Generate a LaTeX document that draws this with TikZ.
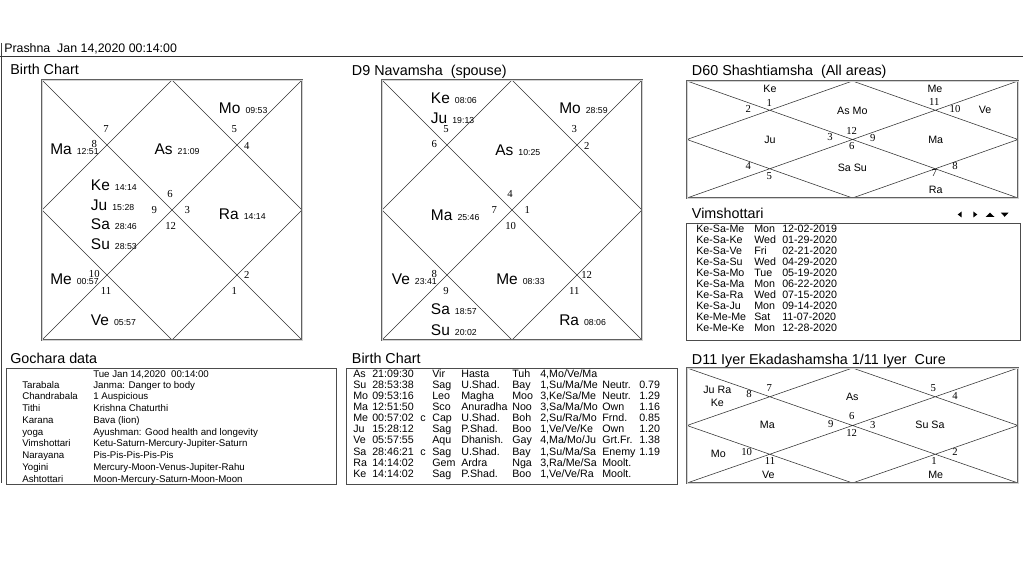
\documentclass[tikz,border=0pt]{standalone}
\usepackage{fontspec}
\setmainfont{Liberation Sans}
\newfontfamily\numfont{Liberation Serif}
\usetikzlibrary{calc}
\newcommand\fsz[1]{\fontsize{#1}{#1}\selectfont}
\newcommand\pd[2]{#1\hspace{3.6pt}{\fsz{6.2}#2}}
\newcommand\chartframe[5]{%
  \coordinate (#1-tl) at (#2,#3);
  \coordinate (#1-tr) at (#4,#3);
  \coordinate (#1-bl) at (#2,#5);
  \coordinate (#1-br) at (#4,#5);
  \coordinate (#1-t) at ($(#1-tl)!0.5!(#1-tr)$);
  \coordinate (#1-b) at ($(#1-bl)!0.5!(#1-br)$);
  \coordinate (#1-l) at ($(#1-tl)!0.5!(#1-bl)$);
  \coordinate (#1-r) at ($(#1-tr)!0.5!(#1-br)$);
  \draw[chartline] (#1-tl) -- (#1-br) (#1-tr) -- (#1-bl) (#1-t) -- (#1-r) -- (#1-b) -- (#1-l) -- cycle;
  \draw[chartbox] (#1-tl) rectangle (#1-br);
}
% birth table row: idx, y, planet, deg, c, sign, nakshatra, abbr, pada
\newcommand\btrow[9]{%
  \node[tb] (bt-#1-a) at (353,#2) {#3};
  \node[tb] (bt-#1-b) at (372,#2) {#4};
  \node[tb] (bt-#1-c) at (420,#2) {#5};
  \node[tb] (bt-#1-d) at (432,#2) {#6};
  \node[tb] (bt-#1-e) at (461,#2) {#7};
  \node[tb] (bt-#1-f) at (512,#2) {#8};
  \node[tb] (bt-#1-g) at (540,#2) {#9};
}
\newcommand\btrel[4]{%
  \node[tb] (bt-#1-h) at (602,#2) {#3};
  \node[tb] (bt-#1-i) at (639,#2) {#4};
}
\newcommand\gcrow[4]{%
  \node[gc] (gc-#1-a) at (22,#2) {#3};
  \node[gc] (gc-#1-b) at (93,#2) {#4};
}
\newcommand\vmrow[5]{%
  \node[tb] (vm-#1-a) at (696,#2) {#3};
  \node[tb] (vm-#1-b) at (754,#2) {#4};
  \node[tb] (vm-#1-c) at (782,#2) {#5};
}
\begin{document}
\begin{tikzpicture}[x=0.025cm,y=-0.025cm,
  pl/.style={anchor=base west, inner sep=0pt, font=\fsz{11}},
  hn/.style={inner sep=0pt, font=\numfont\fsz{7.6}},
  sm/.style={inner sep=0pt, font=\fsz{7.6}, text height=5.5pt, text depth=0pt},
  ttl/.style={anchor=base west, inner sep=0pt, font=\fsz{10.2}},
  tb/.style={anchor=base west, inner sep=0pt, font=\fsz{7.6}},
  gc/.style={anchor=base west, inner sep=0pt, font=\fsz{6.9}},
  chartbox/.style={draw=gray!75!black, double=gray!35, line width=0.45pt, double distance=0.7pt},
  chartline/.style={draw=gray!40!black, line width=0.4pt},
  tblbox/.style={draw=gray!60!black, line width=0.65pt},
  arrowtri/.style={fill=black}]
\useasboundingbox (0,0) rectangle (1024,576);
\fill[white] (0,0) rectangle (1024,576);

% header
\node[anchor=base west, inner sep=0pt, font=\fsz{8.8}] (hdr) at (4,52.7) {Prashna\ \ Jan 14,2020 00:14:00};
\coordinate (hl1) at (0,56.5);
\coordinate (hl2) at (1023,56.5);
\draw[gray!40!black, line width=0.7pt] (hl1) -- (hl2);
\coordinate (vl1) at (1.5,43);
\coordinate (vl2) at (1.5,483);
\draw[gray!50!black, line width=0.6pt] (vl1) -- (vl2);

% titles
\node[ttl] (t-birth) at (10,75) {Birth Chart};
\node[ttl] (t-d9) at (351.7,75.5) {D9 Navamsha\ \ (spouse)};
\node[ttl] (t-d60) at (691.7,75.5) {D60 Shashtiamsha\ \ (All areas)};
\node[ttl] (t-vim) at (691.7,218.3) {Vimshottari};
\node[ttl] (t-goc) at (10,363.3) {Gochara data};
\node[ttl] (t-btab) at (351.7,363.3) {Birth Chart};
\node[ttl] (t-d11) at (691.7,364) {D11 Iyer Ekadashamsha 1/11 Iyer\ \ Cure};

% ---------- Birth chart ----------
\chartframe{B}{42}{80}{302}{340}
\node[pl] (b-mo) at (218.7,113.3) {\pd{Mo}{09:53}};
\node[pl] (b-ma) at (50,155) {\pd{Ma}{12:51}};
\node[pl] (b-as) at (154.3,155) {\pd{As}{21:09}};
\node[pl] (b-ke) at (90.7,190.3) {\pd{Ke}{14:14}};
\node[pl] (b-ju) at (90.7,210.7) {\pd{Ju}{15:28}};
\node[pl] (b-sa) at (90.7,230) {\pd{Sa}{28:46}};
\node[pl] (b-su) at (90.7,249.3) {\pd{Su}{28:53}};
\node[pl] (b-ra) at (218.7,220) {\pd{Ra}{14:14}};
\node[pl] (b-me) at (50,284.3) {\pd{Me}{00:57}};
\node[pl] (b-ve) at (90.7,325.7) {\pd{Ve}{05:57}};
\node[hn] (b-h7) at (106,129.3) {7};
\node[hn] (b-h8) at (94.3,144.3) {8};
\node[hn] (b-h5) at (234.3,129.3) {5};
\node[hn] (b-h4) at (246.7,146) {4};
\node[hn] (b-h6) at (170,194) {6};
\node[hn] (b-h9) at (154.3,210) {9};
\node[hn] (b-h3) at (187.3,210) {3};
\node[hn] (b-h12) at (170.7,226) {12};
\node[hn] (b-h10) at (94.3,274.3) {10};
\node[hn] (b-h11) at (106,291) {11};
\node[hn] (b-h2) at (246.7,275) {2};
\node[hn] (b-h1) at (234.3,291) {1};

% ---------- D9 chart ----------
\chartframe{N}{382}{80}{642}{340}
\node[pl] (n-ke) at (430.7,103.3) {\pd{Ke}{08:06}};
\node[pl] (n-ju) at (430.7,123.3) {\pd{Ju}{19:13}};
\node[pl] (n-mo) at (559,113.3) {\pd{Mo}{28:59}};
\node[pl] (n-as) at (495,156) {\pd{As}{10:25}};
\node[pl] (n-ma) at (430.7,220.7) {\pd{Ma}{25:46}};
\node[pl] (n-ve) at (391.5,285) {\pd{Ve}{23:41}};
\node[pl] (n-me) at (496,285) {\pd{Me}{08:33}};
\node[pl] (n-sa) at (430.7,315) {\pd{Sa}{18:57}};
\node[pl] (n-su) at (430.7,335) {\pd{Su}{20:02}};
\node[pl] (n-ra) at (559,325) {\pd{Ra}{08:06}};
\node[hn] (n-h5) at (446,129.3) {5};
\node[hn] (n-h6) at (434.3,144.3) {6};
\node[hn] (n-h3) at (574.3,129.3) {3};
\node[hn] (n-h2) at (586.7,146) {2};
\node[hn] (n-h4) at (510,194) {4};
\node[hn] (n-h7) at (494.3,210) {7};
\node[hn] (n-h1) at (527.3,210) {1};
\node[hn] (n-h10) at (510.7,226) {10};
\node[hn] (n-h8) at (434.3,274.3) {8};
\node[hn] (n-h9) at (446,291) {9};
\node[hn] (n-h12) at (586.7,275) {12};
\node[hn] (n-h11) at (574.3,291) {11};

% ---------- D60 chart ----------
\chartframe{S}{687}{81}{1018}{198}
\node[sm] (s-ke) at (770,88.3) {Ke};
\node[sm] (s-asmo) at (852.3,110.7) {As Mo};
\node[sm] (s-me) at (935,88.3) {Me};
\node[sm] (s-ve) at (985,109.3) {Ve};
\node[sm] (s-ju) at (770,139.3) {Ju};
\node[sm] (s-ma) at (935.7,139.3) {Ma};
\node[sm] (s-sasu) at (852.3,167.3) {Sa Su};
\node[sm] (s-ra) at (935.7,189.3) {Ra};
\node[hn] (s-h1) at (769.3,102.7) {1};
\node[hn] (s-h2) at (748.3,109.3) {2};
\node[hn] (s-h11) at (934.3,101.7) {11};
\node[hn] (s-h10) at (955,109.3) {10};
\node[hn] (s-h12) at (851.7,130.7) {12};
\node[hn] (s-h3) at (830,136.7) {3};
\node[hn] (s-h9) at (872.7,137.7) {9};
\node[hn] (s-h6) at (851.7,145.7) {6};
\node[hn] (s-h4) at (748.3,166) {4};
\node[hn] (s-h5) at (769.3,175.7) {5};
\node[hn] (s-h8) at (955,166) {8};
\node[hn] (s-h7) at (934.3,173.3) {7};

% ---------- Vimshottari ----------
\fill[arrowtri] (957.7,214.5) -- (961.7,211.5) -- (961.7,217.5) -- cycle;
\fill[arrowtri] (977.3,214.5) -- (973.3,211.5) -- (973.3,217.5) -- cycle;
\fill[arrowtri] (985.7,216.8) -- (994.3,216.8) -- (990,212.6) -- cycle;
\fill[arrowtri] (1000.8,212.6) -- (1008.6,212.6) -- (1004.7,216.8) -- cycle;
\coordinate (vm-tl) at (686,223);
\coordinate (vm-br) at (1020,340);
\draw[tblbox] (vm-tl) rectangle (vm-br);
\vmrow{1}{232.8}{Ke-Sa-Me}{Mon}{12-02-2019}
\vmrow{2}{243.8}{Ke-Sa-Ke}{Wed}{01-29-2020}
\vmrow{3}{254.8}{Ke-Sa-Ve}{Fri}{02-21-2020}
\vmrow{4}{265.8}{Ke-Sa-Su}{Wed}{04-29-2020}
\vmrow{5}{276.8}{Ke-Sa-Mo}{Tue}{05-19-2020}
\vmrow{6}{287.8}{Ke-Sa-Ma}{Mon}{06-22-2020}
\vmrow{7}{298.8}{Ke-Sa-Ra}{Wed}{07-15-2020}
\vmrow{8}{309.8}{Ke-Sa-Ju}{Mon}{09-14-2020}
\vmrow{9}{320.8}{Ke-Me-Me}{Sat}{11-07-2020}
\vmrow{10}{331.8}{Ke-Me-Ke}{Mon}{12-28-2020}

% ---------- Gochara data ----------
\coordinate (gc-tl) at (6,368);
\coordinate (gc-br) at (336,484);
\draw[tblbox] (gc-tl) rectangle (gc-br);
\gcrow{0}{377}{}{Tue Jan 14,2020\ \ 00:14:00}
\gcrow{1}{388.2}{Tarabala}{Janma: Danger to body}
\gcrow{2}{399.9}{Chandrabala}{1 Auspicious}
\gcrow{3}{411.7}{Tithi}{Krishna Chaturthi}
\gcrow{4}{423.4}{Karana}{Bava (lion)}
\gcrow{5}{435.1}{yoga}{Ayushman: Good health and longevity}
\gcrow{6}{446.9}{Vimshottari}{Ketu-Saturn-Mercury-Jupiter-Saturn}
\gcrow{7}{458.6}{Narayana}{Pis-Pis-Pis-Pis-Pis}
\gcrow{8}{470.3}{Yogini}{Mercury-Moon-Venus-Jupiter-Rahu}
\gcrow{9}{482.0}{Ashtottari}{Moon-Mercury-Saturn-Moon-Moon}

% ---------- Birth chart table ----------
\coordinate (bt-tl) at (346,368);
\coordinate (bt-br) at (677,484);
\draw[tblbox] (bt-tl) rectangle (bt-br);
\btrow{0}{377}{As}{21:09:30}{}{Vir}{Hasta}{Tuh}{4,Mo/Ve/Ma}
\btrow{1}{388.6}{Su}{28:53:38}{}{Sag}{U.Shad.}{Bay}{1,Su/Ma/Me}
\btrel{1}{388.6}{Neutr.}{0.79}
\btrow{2}{399.7}{Mo}{09:53:16}{}{Leo}{Magha}{Moo}{3,Ke/Sa/Me}
\btrel{2}{399.7}{Neutr.}{1.29}
\btrow{3}{410.8}{Ma}{12:51:50}{}{Sco}{Anuradha}{Noo}{3,Sa/Ma/Mo}
\btrel{3}{410.8}{Own}{1.16}
\btrow{4}{421.8}{Me}{00:57:02}{c}{Cap}{U.Shad.}{Boh}{2,Su/Ra/Mo}
\btrel{4}{421.8}{Frnd.}{0.85}
\btrow{5}{432.9}{Ju}{15:28:12}{}{Sag}{P.Shad.}{Boo}{1,Ve/Ve/Ke}
\btrel{5}{432.9}{Own}{1.20}
\btrow{6}{443.9}{Ve}{05:57:55}{}{Aqu}{Dhanish.}{Gay}{4,Ma/Mo/Ju}
\btrel{6}{443.9}{Grt.Fr.}{1.38}
\btrow{7}{455.0}{Sa}{28:46:21}{c}{Sag}{U.Shad.}{Bay}{1,Su/Ma/Sa}
\btrel{7}{455.0}{Enemy}{1.19}
\btrow{8}{466.1}{Ra}{14:14:02}{}{Gem}{Ardra}{Nga}{3,Ra/Me/Sa}
\btrel{8}{466.1}{Moolt.}{}
\btrow{9}{477.2}{Ke}{14:14:02}{}{Sag}{P.Shad.}{Boo}{1,Ve/Ve/Ra}
\btrel{9}{477.2}{Moolt.}{}

% ---------- D11 chart ----------
\chartframe{E}{687}{368}{1018}{483}
\node[sm] (e-jura) at (717.3,390) {Ju Ra};
\node[sm] (e-ke) at (717.3,402.3) {Ke};
\node[sm] (e-as) at (852.3,396.7) {As};
\node[sm] (e-ma) at (767.3,425) {Ma};
\node[sm] (e-susa) at (930,425) {Su Sa};
\node[sm] (e-mo) at (718.3,453.3) {Mo};
\node[sm] (e-ve) at (768.3,475) {Ve};
\node[sm] (e-me) at (935.7,475) {Me};
\node[hn] (e-h7) at (769.3,387.7) {7};
\node[hn] (e-h8) at (749,394) {8};
\node[hn] (e-h5) at (933.3,388.3) {5};
\node[hn] (e-h4) at (955,395.7) {4};
\node[hn] (e-h6) at (851.7,416) {6};
\node[hn] (e-h9) at (830.7,424) {9};
\node[hn] (e-h3) at (872.7,425) {3};
\node[hn] (e-h12) at (851.7,433.3) {12};
\node[hn] (e-h10) at (746.7,452.3) {10};
\node[hn] (e-h11) at (770,461) {11};
\node[hn] (e-h2) at (955,452.3) {2};
\node[hn] (e-h1) at (934,461) {1};
\end{tikzpicture}
\end{document}
